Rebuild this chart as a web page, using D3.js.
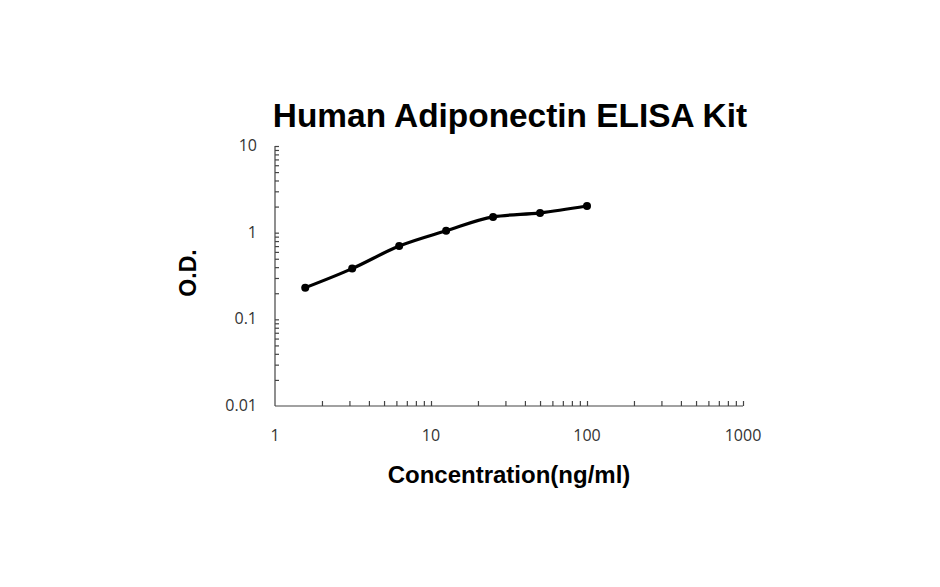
<!DOCTYPE html>
<html><head><meta charset="utf-8">
<script src="https://cdn.jsdelivr.net/npm/d3@7"></script>
<style>body{margin:0;background:#fff}svg{display:block}</style>
</head><body>
<svg id="c" width="940" height="587"></svg>
<script>
const title = "Human Adiponectin ELISA Kit";
const xLabel = "Concentration(ng/ml)";
const yLabel = "O.D.";
const concentrations = [1.5625, 3.125, 6.25, 12.5, 25, 50, 100];
const odValues = [0.232, 0.385, 0.70, 1.05, 1.52, 1.69, 2.03];
const xTicks = [1, 10, 100, 1000];
const yTicks = [0.01, 0.1, 1, 10];

const svg = d3.select("#c");
const x = d3.scaleLog().domain([1, 1000]).range([275, 743]);
const y = d3.scaleLog().domain([0.01, 10]).range([406, 146]);

const xMinor = [];
for (let d = 1; d < 1000; d *= 10) for (let k = 2; k <= 10; k++) xMinor.push(d * k);
const yMinor = [];
for (let d = 0.01; d < 10; d *= 10) for (let k = 2; k <= 10; k++) yMinor.push(d * k);

const g = svg.append("g");
g.append("g").attr("transform", "translate(0,406)")
  .call(d3.axisTop(x).tickValues(xMinor).tickSize(5).tickFormat(""))
  .call(s => s.select(".domain").attr("d", "M275,0H743"));
g.append("g").attr("transform", "translate(275,0)")
  .call(d3.axisRight(y).tickValues(yMinor).tickSize(4).tickFormat(""))
  .call(s => s.select(".domain").attr("d", "M0,146V406"));
g.selectAll("line,path").attr("stroke", "#444").attr("stroke-width", 1.2);

const tickFont = "Open Sans, Liberation Sans, sans-serif";
svg.append("g").selectAll("text").data(xTicks).join("text")
  .attr("x", d => x(d)).attr("y", 441).attr("text-anchor", "middle")
  .attr("font-family", tickFont).attr("font-size", 16).attr("fill", "#333")
  .text(d => d);
svg.append("g").selectAll("text").data(yTicks).join("text")
  .attr("x", 257).attr("y", d => y(d) + 5).attr("text-anchor", "end")
  .attr("font-family", tickFont).attr("font-size", 16).attr("fill", "#333")
  .text(d => d);

const line = d3.line().x((d, i) => x(concentrations[i])).y(d => y(d)).curve(d3.curveMonotoneX);
svg.append("path").datum(odValues).attr("d", line).attr("fill", "none")
  .attr("stroke", "#000").attr("stroke-width", 3.2).attr("stroke-linejoin", "round");
svg.append("g").selectAll("circle").data(odValues).join("circle")
  .attr("cx", (d, i) => x(concentrations[i])).attr("cy", d => y(d)).attr("r", 4).attr("fill", "#000");

const labelFont = "Liberation Sans, Arial, sans-serif";
svg.append("text").attr("x", 510).attr("y", 127).attr("text-anchor", "middle")
  .attr("font-family", labelFont).attr("font-weight", "bold").attr("font-size", 33.4)
  .text(title);
svg.append("text").attr("x", 509).attr("y", 483).attr("text-anchor", "middle")
  .attr("font-family", labelFont).attr("font-weight", "bold").attr("font-size", 24)
  .text(xLabel);
svg.append("text").attr("transform", "translate(196,273) rotate(-90)").attr("text-anchor", "middle")
  .attr("font-family", labelFont).attr("font-weight", "bold").attr("font-size", 23)
  .text(yLabel);
</script>
</body></html>
